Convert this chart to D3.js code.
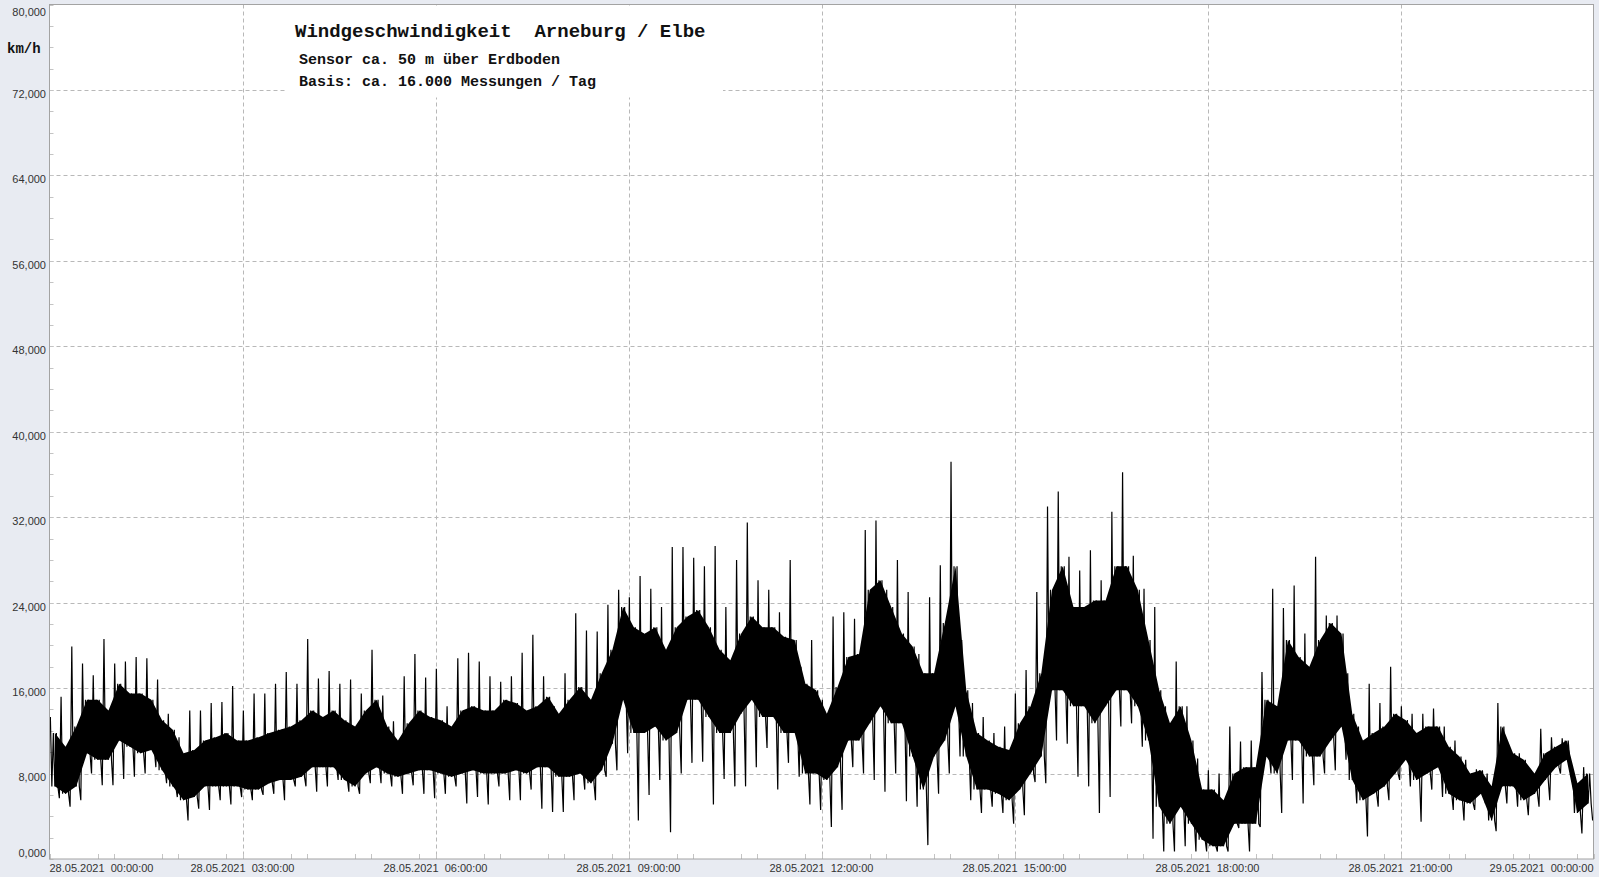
<!DOCTYPE html>
<html><head><meta charset="utf-8">
<script src="https://cdn.jsdelivr.net/npm/d3@7/dist/d3.min.js"></script>
<style>
html,body{margin:0;padding:0;background:#e8ebf2;overflow:hidden;}
svg{display:block;}
text{white-space:pre;}
</style></head><body>
<svg id="chart" width="1599" height="877"></svg>
<script>
// ---- data (10-minute bins, 28.05.2021 00:00 .. 29.05.2021 00:00), km/h ----
const titleText = "Windgeschwindigkeit  Arneburg / Elbe";
const subLines = ["Sensor ca. 50 m über Erdboden", "Basis: ca. 16.000 Messungen / Tag"];
const unitLabel = "km/h";
const startTime = new Date(2021, 4, 28, 0, 0, 0);
const endTime = new Date(2021, 4, 29, 0, 0, 0);
const binMinutes = 10;
const yTicksMajor = [0, 8, 16, 24, 32, 40, 48, 56, 64, 72, 80];

// dense core of the signal: upper edge
const bandHi = [
11.8,10.5,12.4,14.9,14.9,13.9,16.4,15.5,15.5,14.9,
13.0,12.1, 9.9,10.2,11.1,11.4,11.8,11.1,11.1,11.4,
11.8,12.1,12.4,13.0,13.9,13.3,13.9,13.0,12.4,13.9,
14.9,12.4,11.1,12.7,13.9,13.3,13.0,12.4,13.9,14.3,
13.9,13.9,14.9,14.6,13.9,14.3,15.2,13.6,14.9,16.1,
14.9,17.4,19.6,23.6,21.7,21.1,21.7,19.6,21.7,22.7,
23.3,21.7,19.6,18.6,21.1,22.7,21.7,21.7,20.8,20.5,
16.4,15.8,13.6,16.1,18.9,19.2,25.2,26.1,23.6,21.1,
19.9,17.4,17.4,22.1,27.4,15.8,11.8,11.1,10.5,10.2,
12.7,14.3,17.4,25.2,27.4,23.6,23.6,24.2,24.2,27.4,
27.4,25.2,20.5,15.8,12.7,14.3,11.1, 6.5, 6.5, 5.5,
 8.0, 8.6, 8.6,14.9,14.3,20.5,18.9,18.0,20.5,22.1,
21.1,13.6,11.1,11.8,12.4,13.6,13.0,11.8,12.4,12.4,
10.5, 9.6, 8.0, 8.3, 6.8,12.4, 9.9, 9.3, 8.0, 9.9,
10.5,11.1, 7.1, 8.0];
// dense core of the signal: lower edge
const bandLo = [
 6.8, 6.1, 6.8, 9.9, 9.3, 9.3,11.1,10.5, 9.9,10.2,
 8.3, 6.8, 5.5, 5.8, 6.8, 6.8, 6.8, 6.8, 6.5, 6.5,
 7.1, 7.4, 7.4, 7.7, 8.6, 8.6, 8.6, 7.4, 6.8, 8.0,
 8.6, 8.0, 7.7, 8.0, 8.3, 8.3, 8.0, 7.7, 8.0, 8.3,
 8.0, 8.0, 8.0, 8.3, 8.0, 8.6, 8.6, 7.7, 7.7, 8.0,
 7.1, 8.3,10.8,14.9,11.8,11.8,12.4,11.1,11.8,14.9,
14.9,13.3,11.8,11.8,13.6,14.9,13.3,13.3,11.8,11.8,
 8.0, 8.0, 7.4, 8.6,11.1,11.1,12.7,14.3,12.7,12.7,
 9.6, 6.5, 9.6,11.1,14.3, 9.6, 6.5, 6.5, 6.1, 5.5,
 6.5, 8.0, 9.6,15.8,15.8,14.3,14.3,12.7,14.3,15.8,
15.8,14.3,11.1, 4.9, 3.3, 4.9, 3.3, 1.8, 1.2, 1.2,
 3.3, 3.3, 3.3, 9.6, 8.0,11.1,11.1, 9.6, 9.6,11.1,
12.4, 7.4, 5.5, 6.1, 6.8, 8.0, 9.3, 7.4, 8.0, 8.6,
 6.1, 5.5, 5.2, 6.1, 3.6, 6.8, 6.8, 5.5, 6.1, 7.4,
 8.6, 9.3, 4.3, 5.2];
// highest gust in each bin
const peak = [
13.3,15.2,19.9,18.3,17.2,20.6,18.3,18.5,18.9,18.8,
16.8,13.6,11.4,13.9,13.9,14.6,14.7,16.2,13.9,15.5,
15.5,16.4,17.5,16.4,20.6,16.9,17.6,16.4,16.8,15.5,
19.6,15.3,12.9,17.1,19.2,17.0,17.8,14.3,18.8,19.3,
18.5,17.1,16.6,17.1,19.3,21.0,17.1,14.3,17.4,23.0,
21.4,21.3,23.8,25.2,24.5,26.5,25.3,23.6,29.2,29.2,
28.2,27.4,29.3,23.6,28.0,31.5,26.1,25.2,23.1,28.0,
18.0,20.5,14.9,22.7,23.1,22.5,30.8,31.7,25.2,28.0,
25.0,19.2,24.5,27.5,37.2,20.5,14.6,13.3,11.8,12.4,
15.5,17.7,25.0,33.0,34.4,28.3,27.0,28.9,26.1,32.5,
36.2,28.4,25.3,23.6,14.3,18.5,14.3, 9.4, 8.3, 8.0,
12.4,11.0,11.1,17.5,25.3,23.5,25.6,21.1,28.3,22.8,
22.8,17.4,12.4,16.4,14.6,18.0,14.3,13.6,13.6,14.1,
12.4,11.1, 9.3, 8.4, 8.0,14.6,10.5, 9.9, 8.3,12.2,
11.4,11.3, 8.0, 8.6];
// lowest reading in each bin
const trough = [
 5.7, 4.9, 5.5, 8.0, 6.9, 6.9, 7.5, 7.7, 8.0, 8.6,
 7.1, 5.8, 3.6, 4.7, 4.6, 5.5, 5.1, 5.8, 5.5, 6.0,
 6.1, 5.5, 6.8, 6.8, 6.3, 6.8, 7.4, 6.3, 6.1, 7.1,
 7.1, 6.8, 6.1, 6.9, 6.1, 5.7, 6.1, 6.8, 5.2, 5.8,
 5.1, 6.8, 5.5, 5.5, 6.5, 4.7, 4.4, 4.4, 5.5, 6.5,
 5.5, 7.7, 8.3, 9.9, 3.6, 6.0, 7.4, 2.5, 8.0, 9.0,
 9.1, 5.1, 7.5, 6.8, 6.8, 8.6,10.4, 6.5, 9.0, 7.7,
 5.1, 4.6, 3.0, 4.6, 8.6, 8.0, 7.4, 6.3, 8.0, 5.4,
 4.9, 1.3, 6.1, 8.0, 9.6, 5.5, 4.3, 4.9, 4.3, 3.3,
 4.1, 7.2, 7.1,11.1,10.8, 7.7, 6.8, 4.3, 5.8,12.4,
12.7,10.5, 1.9, 0.7, 0.7, 1.2, 0.7, 0.7, 0.7, 0.7,
 2.9, 0.7, 3.0, 8.0, 4.3, 7.4, 5.2, 6.9, 8.0, 8.3,
 9.3, 5.2, 2.1, 4.9, 5.5, 7.4, 6.8, 3.5, 6.5, 5.8,
 4.6, 3.6, 4.6, 5.2, 2.6, 5.2, 4.9, 4.1, 4.9, 5.5,
 8.0, 8.6, 2.4, 3.6];

// ---- layout ----
const L = 49.5, R = 1593.5, T = 4.5, B = 859;
const svg = d3.select("#chart");
svg.append("rect").attr("x",0).attr("y",0).attr("width",1599).attr("height",877).attr("fill","#e8ebf2");
svg.append("rect").attr("x",L).attr("y",T).attr("width",R-L).attr("height",B-T).attr("fill","#ffffff");

const x = d3.scaleTime().domain([startTime, endTime]).range([L, R]);
const y = d3.scaleLinear().domain([0, 80]).range([B, T]);
const tAt = m => new Date(startTime.getTime() + m * 60000);

const gridColor = "#b8b8b8";
svg.append("g").selectAll("line").data(yTicksMajor.filter(v => v > 0 && v < 80)).join("line")
  .attr("x1", L).attr("x2", R).attr("y1", d => Math.round(y(d)) + 0.5).attr("y2", d => Math.round(y(d)) + 0.5)
  .attr("stroke", gridColor).attr("stroke-dasharray", "4,3");
const xMajor = d3.timeHour.every(3).range(startTime, new Date(endTime.getTime() + 1000));
svg.append("g").selectAll("line").data(xMajor.filter(d => d > startTime && d < endTime)).join("line")
  .attr("y1", T).attr("y2", B).attr("x1", d => Math.round(x(d)) + 0.5).attr("x2", d => Math.round(x(d)) + 0.5)
  .attr("stroke", gridColor).attr("stroke-dasharray", "4,3");
const yMinor = d3.range(0, 81, 2);
svg.append("g").selectAll("line").data(yMinor).join("line")
  .attr("x1", L).attr("x2", L + 4).attr("y1", d => Math.round(y(d)) + 0.5).attr("y2", d => Math.round(y(d)) + 0.5)
  .attr("stroke", "#c4c4c4");
const xMinor = d3.timeMinute.every(45).range(startTime, new Date(endTime.getTime() + 1000));
svg.append("g").selectAll("line").data(xMinor).join("line")
  .attr("y1", B).attr("y2", B - 5).attr("x1", d => Math.round(x(d)) + 0.5).attr("x2", d => Math.round(x(d)) + 0.5)
  .attr("stroke", "#c4c4c4");

svg.append("rect").attr("x", 287).attr("y", T + 1).attr("width", 436).attr("height", 92).attr("fill", "#ffffff");

// ---- data ----
svg.append("clipPath").attr("id", "clipPlot").append("rect")
  .attr("x", L).attr("y", T).attr("width", R - L).attr("height", B - T);
const g = svg.append("g").attr("clip-path", "url(#clipPlot)");

const bins = d3.range(bandHi.length);
// dense core band
const area = d3.area()
  .x(i => x(tAt(i * binMinutes + binMinutes / 2)))
  .y0(i => y(bandLo[i])).y1(i => y(bandHi[i]));
g.append("path").datum(bins).attr("d", area).attr("fill", "#000");

// trace: gust peak, core swing, lowest reading for each bin
const pts = [];
bins.forEach(i => {
  const t0 = i * binMinutes;
  pts.push([t0 + 0.8, peak[i]]);
  pts.push([t0 + 2.2, bandLo[i]]);
  pts.push([t0 + 3.6, bandHi[i]]);
  pts.push([t0 + 5.0, bandLo[i]]);
  pts.push([t0 + 6.4, bandHi[i]]);
  pts.push([t0 + 7.8, bandLo[i]]);
  pts.push([t0 + 9.2, trough[i]]);
});
const line = d3.line().x(p => x(tAt(p[0]))).y(p => y(p[1]));
g.append("path").datum(pts).attr("d", line).attr("fill", "none").attr("stroke", "#000").attr("stroke-width", 1.2);

svg.append("rect").attr("x", L).attr("y", T).attr("width", R - L).attr("height", B - T)
  .attr("fill", "none").attr("stroke", "#a3a3a3");

// ---- y labels ----
const fmtY = v => d3.format(".3f")(v).replace(".", ",");
svg.append("g").selectAll("text").data(yTicksMajor).join("text")
  .attr("x", 46)
  .attr("y", d => Math.min(853, Math.max(12, y(d) + 4)))
  .attr("dy", "0.35em").attr("text-anchor", "end")
  .attr("font-family", "'Liberation Sans', Arial, sans-serif").attr("font-size", 11).attr("fill", "#333")
  .text(fmtY);
svg.append("text").attr("x", 7).attr("y", 48).attr("dy", "0.35em")
  .attr("font-family", "'Liberation Mono', 'Courier New', monospace").attr("font-weight", "bold")
  .attr("font-size", 14).attr("fill", "#111").text(unitLabel);

// ---- x labels ----
const fmtX = d3.timeFormat("%d.%m.%Y  %H:%M:%S");
svg.append("g").selectAll("text").data(xMajor).join("text")
  .attr("x", d => x(d))
  .attr("y", 868).attr("dy", "0.35em")
  .attr("text-anchor", (d, i) => i === 0 ? "start" : (i === xMajor.length - 1 ? "end" : "middle"))
  .attr("font-family", "'Liberation Sans', Arial, sans-serif").attr("font-size", 11).attr("fill", "#333")
  .attr("xml:space", "preserve")
  .text(fmtX);

// ---- titles ----
svg.append("text").attr("x", 295).attr("y", 37)
  .attr("font-family", "'Liberation Mono', 'Courier New', monospace").attr("font-weight", "bold")
  .attr("font-size", 19).attr("fill", "#111").attr("xml:space", "preserve").text(titleText);
svg.append("g").selectAll("text").data(subLines).join("text")
  .attr("x", 299).attr("y", (d, i) => 64 + i * 21.5)
  .attr("font-family", "'Liberation Mono', 'Courier New', monospace").attr("font-weight", "bold")
  .attr("font-size", 15).attr("fill", "#111").attr("xml:space", "preserve").text(d => d);
</script>
</body></html>
